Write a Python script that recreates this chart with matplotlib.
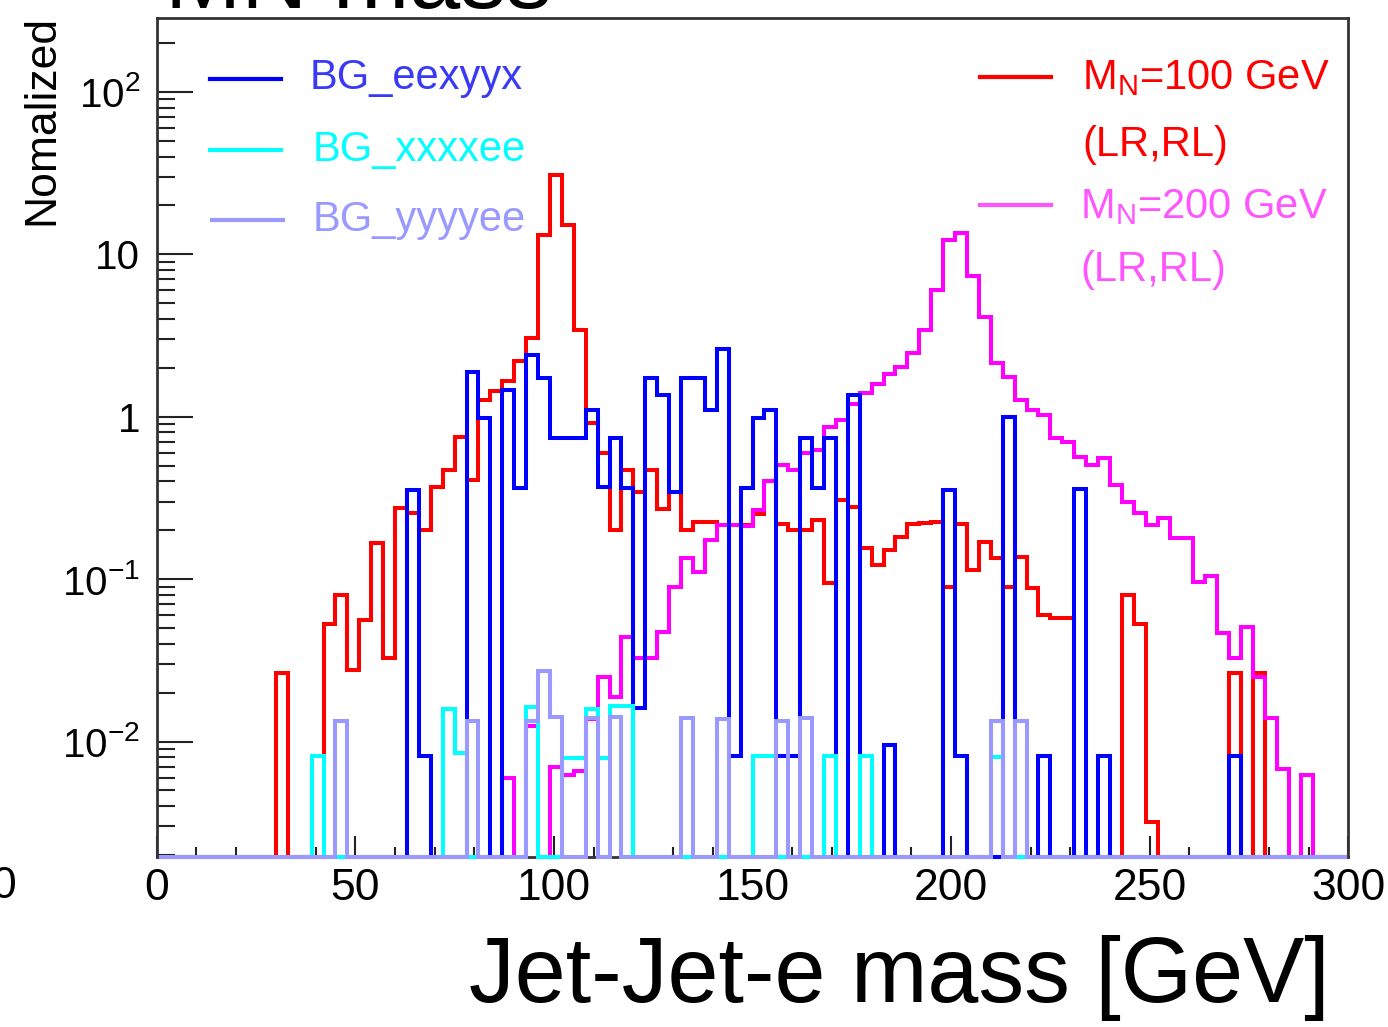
import numpy as np
import matplotlib
matplotlib.use("Agg")
import matplotlib.pyplot as plt
from matplotlib.lines import Line2D
from matplotlib.ticker import FixedLocator, FixedFormatter, LogLocator, MultipleLocator, NullFormatter

plt.rcParams['font.family'] = ['Liberation Sans', 'DejaVu Sans']
plt.rcParams['mathtext.fontset'] = 'custom'
plt.rcParams['mathtext.rm'] = 'Liberation Sans'
plt.rcParams['mathtext.it'] = 'Liberation Sans:italic'
plt.rcParams['mathtext.bf'] = 'Liberation Sans:bold'

# ---------------- data (100 bins of 3 GeV, 0-300 GeV) ----------------
bin_width = 3
x_min, x_max = 0, 300

mn100 = [
    0, 0, 0, 0, 0, 0, 0, 0, 0, 0,
    0.0264, 0, 0, 0, 0.053, 0.080, 0.0275, 0.056, 0.166, 0.0325,
    0.273, 0.256, 0.20, 0.368, 0.47, 0.75, 0.41, 1.27, 1.45, 1.66,
    2.2, 3.04, 13.1, 30.8, 15.1, 3.42, 0.91, 0.6, 0.2, 0.47,
    0.345, 0.47, 0.272, 0.345, 0.2, 0.226, 0.226, 0.215, 0.215, 0.215,
    0.25, 0.40, 0.22, 0.2, 0.2, 0.231, 0.094, 0.307, 0.279, 0.155,
    0.122, 0.151, 0.183, 0.218, 0.222, 0.226, 0.09, 0.22, 0.114, 0.17,
    0.134, 0.09, 0.137, 0.088, 0.06, 0.0574, 0.0574, 0, 0, 0,
    0, 0.08, 0.053, 0.0032, 0, 0, 0, 0, 0, 0,
    0.0263, 0, 0.0263, 0, 0, 0, 0, 0, 0, 0,
]

mn200 = [
    0, 0, 0, 0, 0, 0, 0, 0, 0, 0,
    0, 0, 0, 0, 0, 0, 0, 0, 0, 0,
    0, 0, 0, 0, 0, 0, 0, 0, 0, 0.006,
    0, 0.0125, 0, 0.0070, 0.0062, 0.0066, 0.0137, 0.0251, 0.0188, 0.0442,
    0.0325, 0.0325, 0.0472, 0.0897, 0.134, 0.111, 0.174, 0.215, 0.215, 0.211,
    0.266, 0.40, 0.504, 0.47, 0.60, 0.62, 0.87, 0.95, 1.2, 1.4,
    1.6, 1.82, 2.03, 2.46, 3.42, 6.0, 12.2, 13.5, 7.4, 4.13,
    2.13, 1.76, 1.27, 1.1, 1.02, 0.736, 0.70, 0.567, 0.504, 0.554,
    0.38, 0.30, 0.254, 0.215, 0.237, 0.178, 0.178, 0.0966, 0.104, 0.0464,
    0.0325, 0.051, 0.025, 0.0139, 0.0068, 0, 0.0062, 0, 0, 0,
]

bg_eexyyx = [
    0, 0, 0, 0, 0, 0, 0, 0, 0, 0,
    0, 0, 0, 0, 0, 0, 0, 0, 0, 0,
    0, 0.353, 0.0082, 0, 0, 0, 1.89, 0.977, 0, 1.46,
    0.362, 2.4, 1.72, 0.736, 0.736, 0.736, 1.1, 0.37, 0.736, 0.362,
    0.016, 1.72, 1.36, 0.345, 1.72, 1.72, 1.1, 2.63, 0.0081, 0.362,
    0.977, 1.1, 0.0081, 0.0081, 0.736, 0.362, 0.736, 0, 1.36, 0,
    0, 0.0095, 0, 0, 0, 0, 0.353, 0.0081, 0, 0,
    0, 1.0, 0, 0, 0.0081, 0, 0, 0.36, 0, 0.0081,
    0, 0, 0, 0, 0, 0, 0, 0, 0, 0,
    0.0081, 0, 0, 0, 0, 0, 0, 0, 0, 0,
]

bg_xxxxee = [
    0, 0, 0, 0, 0, 0, 0, 0, 0, 0,
    0, 0, 0, 0.0081, 0, 0, 0, 0, 0, 0,
    0, 0, 0, 0, 0.0159, 0.0085, 0, 0, 0, 0,
    0, 0.0164, 0, 0, 0.0079, 0.0079, 0.0159, 0.0079, 0.0165, 0.0165,
    0, 0, 0, 0, 0, 0, 0, 0, 0, 0,
    0.0081, 0.0081, 0, 0, 0, 0, 0.0081, 0, 0, 0.0081,
    0, 0, 0, 0, 0, 0, 0, 0, 0, 0,
    0.008, 0, 0, 0, 0, 0, 0, 0, 0, 0,
    0, 0, 0, 0, 0, 0, 0, 0, 0, 0,
    0, 0, 0, 0, 0, 0, 0, 0, 0, 0,
]

bg_yyyyee = [
    0, 0, 0, 0, 0, 0, 0, 0, 0, 0,
    0, 0, 0, 0, 0, 0.0133, 0, 0, 0, 0,
    0, 0, 0, 0, 0, 0, 0.0133, 0, 0, 0,
    0, 0.0133, 0.027, 0.0142, 0, 0, 0.014, 0, 0.0142, 0,
    0, 0, 0, 0, 0.014, 0, 0, 0.0138, 0, 0,
    0, 0, 0.0133, 0, 0.014, 0, 0, 0, 0, 0,
    0, 0, 0, 0, 0, 0, 0, 0, 0, 0,
    0.0133, 0, 0.0133, 0, 0, 0, 0, 0, 0, 0,
    0, 0, 0, 0, 0, 0, 0, 0, 0, 0,
    0, 0, 0, 0, 0, 0, 0, 0, 0, 0,
]

x_ticks = [0, 50, 100, 150, 200, 250, 300]
y_tick_vals = [0.01, 0.1, 1, 10, 100]
y_tick_labels = ['$10^{-2}$', '$10^{-1}$', '1', '10', '$10^{2}$']

# ---------------- figure ----------------
W, H = 1388, 1027
fig = plt.figure(figsize=(W / 100, H / 100), dpi=100)
fig.patch.set_facecolor('white')

ax_l, ax_r, ax_t, ax_b = 156.7, 1348.3, 18.3, 856.7
ax = fig.add_axes([ax_l / W, 1 - ax_b / H, (ax_r - ax_l) / W, (ax_b - ax_t) / H])

ymin, ymax = 10 ** -2.709, 10 ** 2.453
edges = np.arange(x_min, x_max + bin_width, bin_width)

C_RED = '#ff0000'
C_MAG = '#ff00ff'
C_BLUE = '#0000ff'
C_CYAN = '#00ffff'
C_LB = '#9999ff'


def draw(vals, color):
    v = np.asarray(vals, float)
    v = np.where(v > 0, v, ymin)
    ax.stairs(v, edges, color=color, lw=2.9, baseline=None, clip_on=False, zorder=3)


ax.set_yscale('log')
draw(mn100, C_RED)
draw(mn200, C_MAG)
draw(bg_eexyyx, C_BLUE)
draw(bg_xxxxee, C_CYAN)
draw(bg_yyyyee, C_LB)

ax.set_xlim(x_min, x_max)
ax.set_ylim(ymin, ymax)

ax.xaxis.set_major_locator(FixedLocator(x_ticks))
ax.xaxis.set_minor_locator(MultipleLocator(10))
ax.yaxis.set_major_locator(FixedLocator(y_tick_vals))
ax.yaxis.set_major_formatter(FixedFormatter(y_tick_labels))
ax.yaxis.set_minor_locator(LogLocator(base=10, subs=np.arange(2, 10)))
ax.yaxis.set_minor_formatter(NullFormatter())

ax.tick_params(axis='both', which='both', direction='in', top=False, right=False,
               color='#222222', width=1.5)
ax.tick_params(axis='y', which='major', length=26, labelsize=29, pad=12)
ax.tick_params(axis='y', which='minor', length=13)
ax.tick_params(axis='x', which='major', length=15, labelsize=32, pad=8)
ax.tick_params(axis='x', which='minor', length=7.5)
for name, s in ax.spines.items():
    s.set_linewidth(2)
    s.set_color('#333333')
    s.set_zorder(2 if name == 'bottom' else 5)

# ---------------- axis titles ----------------
fig.text(42 / W, 1 - 120 / H, 'Nomalized', rotation=90, ha='center', va='center', fontsize=32)
fig.text(1330 / W, 1 - 978 / H, 'Jet-Jet-e mass [GeV]', ha='right', va='center', fontsize=66)
# cut-off title and neighbouring-panel remnants (cropped in the reference too)
fig.text(165 / W, 1 - 8 / H, 'MN mass', ha='left', va='baseline', fontsize=66)
fig.text(16 / W, 1 - 887 / H, '0', ha='right', va='center', fontsize=32)
fig.text(6 / W, 1 - 978 / H, ']', ha='right', va='center', fontsize=66)

# ---------------- legend ----------------
def leg_line(x1, x2, y, color):
    fig.add_artist(Line2D([x1 / W, x2 / W], [1 - y / H, 1 - y / H],
                          transform=fig.transFigure, color=color, lw=3))


def leg_text(x, y, s, color):
    fig.text(x / W, 1 - y / H, s, color=color, fontsize=30, ha='left', va='center')


leg_line(210, 281, 79, C_BLUE)
leg_text(310, 78, 'BG_eexyyx', '#3a3af5')
leg_line(210, 281, 150, C_CYAN)
leg_text(313, 150, 'BG_xxxxee', C_CYAN)
leg_line(212, 283, 220, C_LB)
leg_text(313, 220, 'BG_yyyyee', C_LB)

leg_line(980, 1051, 77, C_RED)
leg_text(1082, 78, r'M$_{\mathregular{N}}$=100 GeV', C_RED)
leg_text(1082, 145, '(LR,RL)', C_RED)
leg_line(980, 1051, 205, '#ff55ff')
leg_text(1080, 207, r'M$_{\mathregular{N}}$=200 GeV', '#ff55ff')
leg_text(1080, 270, '(LR,RL)', '#ff55ff')

fig.savefig('out.png', dpi=100)
